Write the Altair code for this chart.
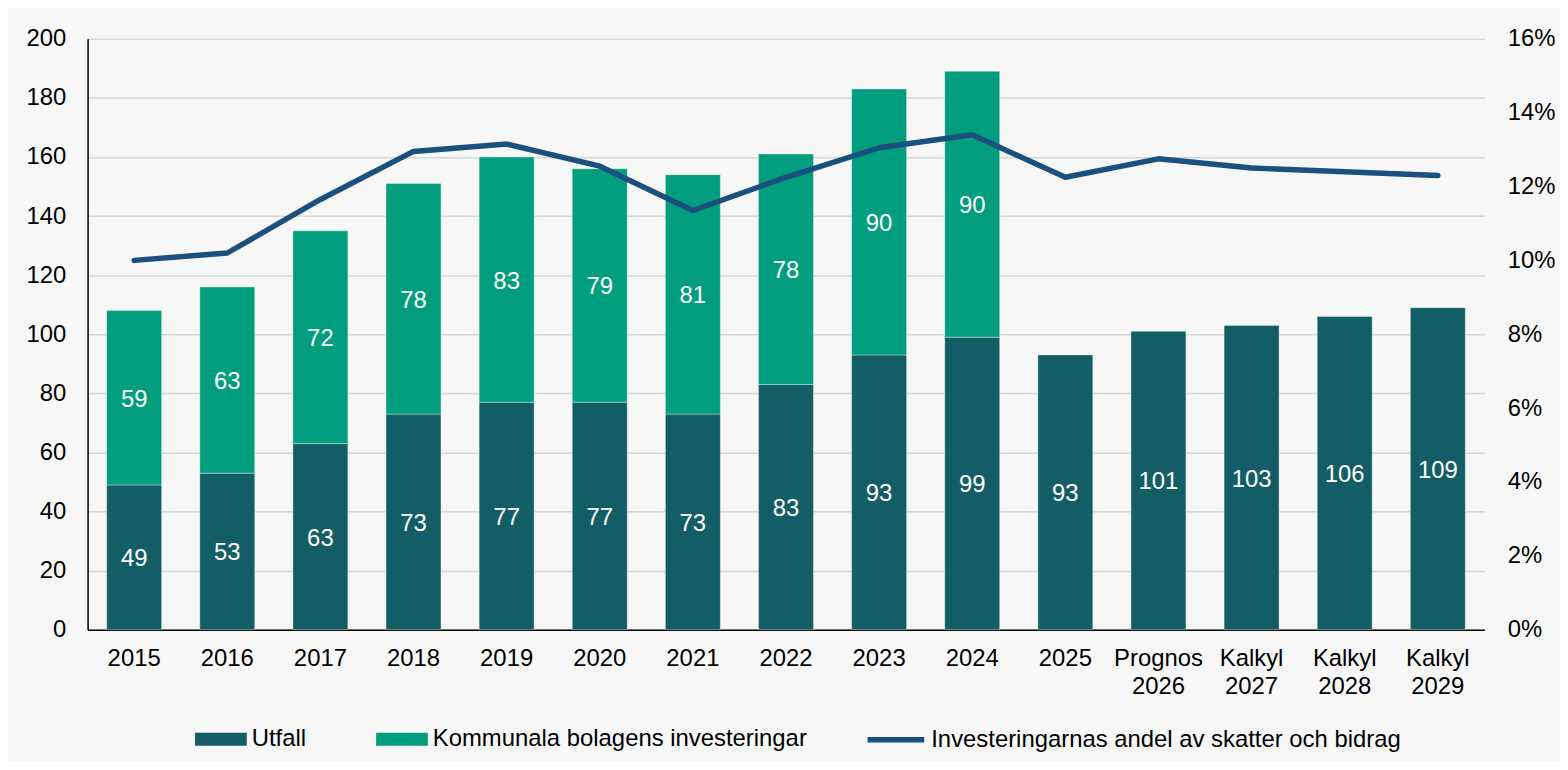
import altair as alt
import pandas as pd

FONT = "Liberation Sans"

years = ["2015", "2016", "2017", "2018", "2019", "2020", "2021", "2022", "2023",
         "2024", "2025", "Prognos 2026", "Kalkyl 2027", "Kalkyl 2028", "Kalkyl 2029"]
utfall = [49, 53, 63, 73, 77, 77, 73, 83, 93, 99, 93, 101, 103, 106, 109]
bolag = [59, 63, 72, 78, 83, 79, 81, 78, 90, 90, None, None, None, None, None]
andel = [10.0, 10.2, 11.65, 12.95, 13.15, 12.55, 11.35, 12.25, 13.05, 13.4,
         12.25, 12.75, 12.5, 12.4, 12.3]

S1 = "Utfall"
S2 = "Kommunala bolagens investeringar"
S3 = "Investeringarnas andel av skatter och bidrag"

rows = []
for i, yr in enumerate(years):
    rows.append(dict(year=yr, series=S1, value=utfall[i], order=0))
    if bolag[i] is not None:
        rows.append(dict(year=yr, series=S2, value=bolag[i], order=1))
bars_df = pd.DataFrame(rows)
line_df = pd.DataFrame(dict(year=years, andel=andel, series=S3))

FS = 24

x = alt.X(
    "year:N", sort=years,
    scale=alt.Scale(paddingInner=0.41, paddingOuter=0.205),
    axis=alt.Axis(title=None, labelAngle=0, ticks=False, labelPadding=17,
                  labelExpr="split(datum.label, ' ')", labelLineHeight=28,
                  labelFontSize=FS, labelFont=FONT, labelColor="black",
                  domainColor="black", domainWidth=1.5, grid=False),
)

left_axis = alt.Axis(title=None, values=list(range(0, 201, 20)), ticks=False,
                     labelPadding=22, labelFontSize=FS, labelFont=FONT,
                     labelColor="black", domainColor="black", domainWidth=1.5,
                     gridColor="#d6d6d6", gridWidth=1.5)

base = alt.Chart(bars_df).transform_stack(
    stack="value", as_=["y0", "y1"], groupby=["year"],
    sort=[alt.SortField("order", order="ascending")],
).transform_calculate(mid="(datum.y0 + datum.y1) / 2")

bars = base.mark_bar(stroke="white", strokeWidth=1, strokeOpacity=0.35).encode(
    x=x,
    y=alt.Y("y0:Q", scale=alt.Scale(domain=[0, 200]), axis=left_axis),
    y2="y1:Q",
    color=alt.Color("series:N",
                    scale=alt.Scale(domain=[S1, S2], range=["#135e66", "#009e7e"]),
                    legend=alt.Legend(title=None, orient="none", direction="horizontal",
                                      legendX=108, legendY=678,
                                      symbolType="M-1,-0.25L1,-0.25L1,0.25L-1,0.25Z",
                                      symbolSize=2704, symbolStrokeWidth=0,
                                      labelFontSize=FS, labelFont=FONT, labelColor="black",
                                      labelOffset=5, columnPadding=70, labelLimit=0)),
)

text = base.mark_text(color="white", fontSize=FS, font=FONT, dy=2).encode(
    x=x,
    y=alt.Y("mid:Q", scale=alt.Scale(domain=[0, 200]), axis=left_axis),
    text=alt.Text("value:Q"),
)

line = alt.Chart(line_df).mark_line(strokeWidth=5.5, strokeCap="round", strokeJoin="round").encode(
    x=x,
    y=alt.Y("andel:Q", scale=alt.Scale(domain=[0, 16]),
            axis=alt.Axis(title=None, orient="right", values=list(range(0, 17, 2)),
                          labelExpr="datum.value + '%'", ticks=False, domain=False,
                          grid=False, labelPadding=23, labelFontSize=FS, labelFont=FONT,
                          labelColor="black")),
    stroke=alt.Stroke("series:N",
                      scale=alt.Scale(domain=[S3], range=["#1b4f7d"]),
                      legend=alt.Legend(title=None, orient="none", legendX=781, legendY=673,
                                        symbolType="stroke", symbolSize=3249,
                                        symbolStrokeWidth=5.5,
                                        labelFontSize=FS, labelFont=FONT, labelColor="black",
                                        labelOffset=4, labelLimit=0)),
)

chart = alt.layer(alt.layer(bars, text), line).resolve_scale(
    y="independent"
).properties(
    width=1404, height=594,
    autosize=alt.AutoSizeParams(type="none"),
    padding={"left": 80, "top": 29, "right": 76, "bottom": 130},
    background="#f7f7f7",
).configure_view(stroke=None)

chart.save("out.html", embed_options={"renderer": "svg", "actions": False})
